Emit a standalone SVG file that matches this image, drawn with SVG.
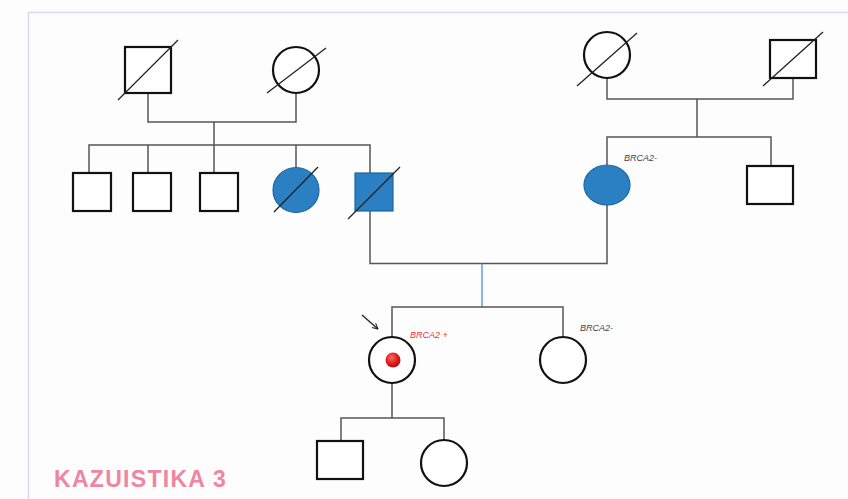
<svg xmlns="http://www.w3.org/2000/svg" width="848" height="499" viewBox="0 0 848 499">
<defs>
<style>
.sym{fill:#fff;stroke:#111;stroke-width:2.2}
.aff{fill:#2a80c2;stroke:#1d66a0;stroke-width:1.2}
.dead{stroke:#222;stroke-width:1.3}
.ln{stroke:#555;stroke-width:1.5;fill:none}
.lbl{font-family:"Liberation Sans",Arial,sans-serif;font-style:italic;font-size:9px;fill:#444}
</style>
<radialGradient id="red" cx="40%" cy="35%" r="65%">
<stop offset="0" stop-color="#ff6a6a"/>
<stop offset="0.6" stop-color="#e01e1e"/>
<stop offset="1" stop-color="#b30f0f"/>
</radialGradient>
<marker id="ah" viewBox="0 0 10 10" refX="9" refY="5" markerWidth="7" markerHeight="7" orient="auto" markerUnits="userSpaceOnUse">
<path d="M1,1 L9,5 L1,9" fill="none" stroke="#222" stroke-width="1.4"/>
</marker>
</defs>
<rect width="848" height="499" fill="#fdfdfd"/>
<path d="M28.5,499 V12.5 H848" fill="none" stroke="#d6dcea" stroke-width="1.5"/>

<g id="connectors">
<path class="ln" d="M148,93 V122 H296 V93"/>
<path class="ln" d="M214,122 V145"/>
<path class="ln" d="M89,173 V145 H370 V173"/>
<path class="ln" d="M148,145 V173 M214,145 V173 M296,145 V167"/>
<path class="ln" d="M607,78 V99 H793 V78"/>
<path class="ln" d="M697,99 V137"/>
<path class="ln" d="M607,165 V137 H771 V166"/>
<path class="ln" d="M370,211 V263.5 H607 V205"/>
<path d="M482,263.5 V307" stroke="#4a8fd6" stroke-width="1.3"/>
<path class="ln" d="M392,337 V307 H563 V337"/>
<path class="ln" d="M392,383 V418"/>
<path class="ln" d="M341,441 V418 H444 V440"/>
</g>

<g id="gf-paternal">
<rect class="sym" x="125" y="47" width="46" height="46"/>
<line class="dead" x1="118" y1="100" x2="178" y2="40"/>
</g>
<g id="gm-paternal">
<circle class="sym" cx="296" cy="70" r="23"/>
<line class="dead" x1="267" y1="93" x2="326" y2="48"/>
</g>
<g id="gm-maternal">
<circle class="sym" cx="607" cy="55" r="23"/>
<line class="dead" x1="577" y1="86" x2="637" y2="33"/>
</g>
<g id="gf-maternal">
<rect class="sym" x="770" y="40" width="46" height="38"/>
<line class="dead" x1="763" y1="86" x2="823" y2="32"/>
</g>

<g id="uncle1"><rect class="sym" x="73" y="173" width="38" height="38"/></g>
<g id="uncle2"><rect class="sym" x="133" y="173" width="38" height="38"/></g>
<g id="uncle3"><rect class="sym" x="200" y="173" width="38" height="38"/></g>
<g id="aunt-affected">
<ellipse class="aff" cx="296" cy="190" rx="23" ry="22.5"/>
<line class="dead" x1="274" y1="212" x2="318" y2="167"/>
</g>
<g id="father">
<rect class="aff" x="355" y="173" width="38" height="38"/>
<line class="dead" x1="348" y1="219" x2="400" y2="167"/>
</g>
<g id="mother">
<ellipse class="aff" cx="607" cy="185" rx="23" ry="20"/>
<text class="lbl" x="624" y="161">BRCA2-</text>
</g>
<g id="maternal-uncle"><rect class="sym" x="747" y="166" width="46" height="38"/></g>

<g id="proband">
<circle class="sym" cx="392" cy="360" r="23" stroke-width="2.6"/>
<circle cx="393" cy="360" r="7.5" fill="url(#red)"/>
<line x1="362" y1="315" x2="378" y2="329" stroke="#222" stroke-width="1.3" marker-end="url(#ah)"/>
<text class="lbl" x="410" y="338" style="fill:#f0303a">BRCA2 +</text>
</g>
<g id="sister">
<circle class="sym" cx="563" cy="360" r="23"/>
<text class="lbl" x="580" y="331">BRCA2-</text>
</g>
<g id="son"><rect class="sym" x="317" y="441" width="46" height="38"/></g>
<g id="daughter"><circle class="sym" cx="444" cy="463" r="23"/></g>

<text x="54" y="487" font-family="Liberation Sans,Arial,sans-serif" font-weight="bold" font-size="23" letter-spacing="1.3" fill="#ef85a1">KAZUISTIKA 3</text>
</svg>
